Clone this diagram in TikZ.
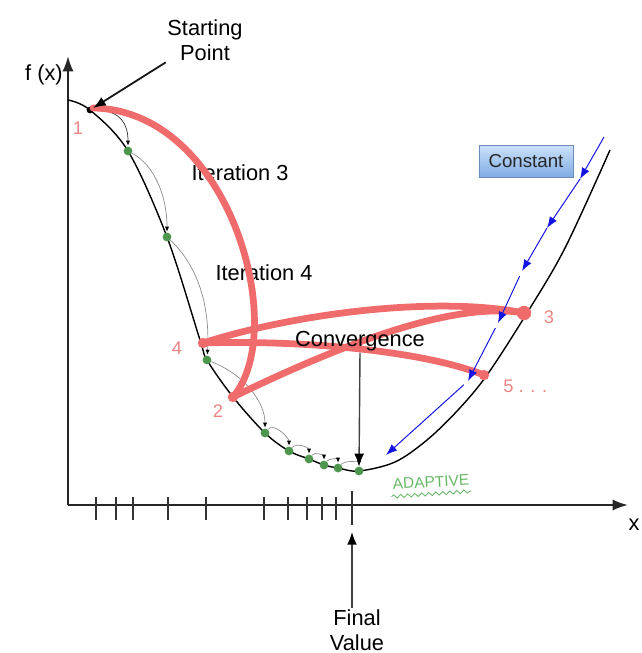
\documentclass[tikz,border=0pt]{standalone}
\usepackage{fontspec}
\setmainfont{Liberation Sans}
\usetikzlibrary{arrows.meta,positioning,calc,decorations.pathmorphing}

\definecolor{strokered}{RGB}{240,108,108}
\definecolor{handred}{RGB}{236,132,132}
\definecolor{ptgreen}{RGB}{78,150,78}
\definecolor{handgreen}{RGB}{104,184,104}
\definecolor{flowblue}{RGB}{20,20,225}
\definecolor{boxtop}{RGB}{204,226,250}
\definecolor{boxbot}{RGB}{128,172,228}
\definecolor{boxline}{RGB}{110,140,185}

\begin{document}
\begin{tikzpicture}[
  x=0.025cm, y=-0.025cm,
  lbl/.style={font=\fontsize{15.5}{18}\selectfont, align=center, inner sep=1pt},
  hand/.style={font=\fontsize{13}{15}\selectfont, text=handred, inner sep=0pt},
  axis/.style={line width=1.5pt, draw=black!85, -{Latex[length=11pt,width=8pt]}},
  tick/.style={line width=1.1pt, draw=black!80},
  curve/.style={line width=1pt, draw=black},
  arr/.style={line width=1pt, draw=black!75, -{Latex[length=9pt,width=7pt,color=black]}},
  dot/.style={circle, fill=ptgreen, inner sep=0pt, minimum size=0.22cm},
  startdot/.style={circle, fill=black, inner sep=0pt, minimum size=0.17cm},
  hop/.style={draw=black!45, line width=0.5pt, -{Latex[length=3.5pt,width=3pt,color=black]}, shorten >=0.5pt},
  iter/.style={draw=strokered, line width=4.8pt, line cap=round},
  blob/.style={circle, fill=strokered, inner sep=0pt, minimum size=0.26cm},
  flow/.style={draw=flowblue, line width=0.7pt, -{Latex[length=8pt,width=6pt]}},
  constbox/.style={draw=boxline, top color=boxtop, bottom color=boxbot,
    minimum width=2.35cm, minimum height=0.8cm, font=\fontsize{13.3}{15}\selectfont, text=black!85}
]
\useasboundingbox (0,0) rectangle (641,653);

% axes and ticks
\coordinate (O) at (68,505);
\coordinate (ytop) at (68,56);
\coordinate (xend) at (628,505);
\draw[axis] (O) -- (ytop);
\draw[axis] (O) -- (xend);
\node[lbl] (fx) at (44,75) {f (x)};
\node[lbl] (xl) at (634,525) {x};
\foreach \t in {96,116,133,168,206,264,288,307,322,336}
  \draw[tick] (\t,497) -- (\t,520);
\draw[tick] (352,491) -- (352,525);

% the function
\draw[curve] plot[smooth, tension=0.55] coordinates {(68,100) (90,110) (128,151) (167,237) (200,340)
  (207,360) (233,397) (265,433) (289,451) (309,459) (324,465) (338,468) (359,471) (395,462)
  (427,440) (458,410) (487,375) (527,313) (565,248) (610,150)};

% small steps
\node[startdot] (start) at (90,110) {};
\foreach \n/\p in {1/{128,151}, 2/{167,237}, 3/{207,360}, 4/{265,433}, 5/{289,451},
  6/{309,459}, 7/{324,465}, 8/{338,468}, 9/{359,471}}
  \node[dot] (g\n) at (\p) {};
\draw[hop, draw=black!80] (start) .. controls +(32,0) and +(0,-26) .. (g1);
\foreach \a/\b/\ca/\cb in {g1/g2/{26,14}/{0,-42}, g2/g3/{32,30}/{3,-52}, g3/g4/{36,14}/{0,-32},
  g4/g5/{9,-11}/{0,-13}, g5/g6/{8,-9}/{0,-11}, g6/g7/{6,-8}/{0,-9}, g7/g8/{5,-7}/{0,-9},
  g8/g9/{7,-8}/{0,-9}}
  \draw[hop] (\a) .. controls +(\ca) and +(\cb) .. (\b);

\node[lbl] (it3) at (240,173) {Iteration 3};
\node[lbl] (it4) at (264,273) {Iteration 4};

% big steps
\coordinate (p1) at (93,108);
\node[blob] (p2) at (233,397) {};
\node[blob, minimum width=0.36cm] (p3) at (524,313) {};
\node[blob] (p4) at (203,343) {};
\node[blob] (p5) at (484,375) {};
\draw[iter] (p1) .. controls (230,110) and (290,330) .. (p2.center);
\draw[iter] (p2.center) .. controls (330,350) and (450,300) .. (p3.center);
\draw[iter] (p3.center) .. controls (440,296) and (300,312) .. (p4.center);
\draw[iter] (p4.center) .. controls (300,340) and (420,350) .. (p5.center);
\node[hand] (n1) at (78,128) {1};
\node[hand] (n2) at (218,411) {2};
\node[hand] (n3) at (549,317) {3};
\node[hand] (n4) at (177,348) {4};
\node[hand, anchor=west] (n5) at (503,386) {5 . . .};

\node[lbl] (conv) at (360,341) {Convergence};
\draw[arr] (conv.south) -- (g9);

\node[lbl] (sp) at (205,40) {Starting\\Point};
\draw[arr, line width=1.3pt, draw=black!90] (sp.south west) -- (start);

\node[lbl] (fv) at (357,630) {Final\\Value};
\coordinate (fvtip) at (352,532);
\draw[arr] (fv.north -| fvtip) -- (fvtip);

% constant step size
\coordinate (b0) at (604,137);
\coordinate (b1) at (580,179);
\coordinate (b2) at (547,228);
\coordinate (b3) at (522,271);
\coordinate (b4) at (498,323);
\coordinate (b5) at (468,381);
\coordinate (b6) at (386,455);
\foreach \a/\b/\s in {b0/b1/0pt, b1/b2/0pt, b2/b3/0pt, b3/b4/4pt, b4/b5/4pt, b5/b6/4pt}
  \draw[flow, shorten <=\s] (\a) -- (\b);
\node[constbox] (const) at (526,161) {Constant};

\node[font=\fontsize{11}{13}\selectfont, text=handgreen, rotate=3, inner sep=1pt] (adapt) at (431,482) {ADAPTIVE};
\draw[handgreen, line width=0.6pt, decorate, decoration={snake, amplitude=1.2pt, segment length=5pt}]
  ([yshift=-4pt]adapt.south west) -- ([yshift=-3pt]adapt.south east);

\end{tikzpicture}
\end{document}
